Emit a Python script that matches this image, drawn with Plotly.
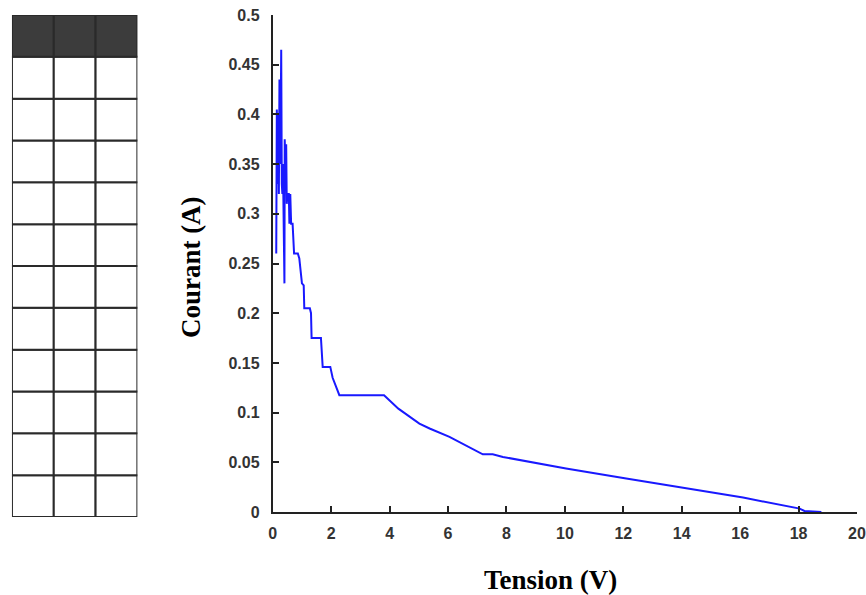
import plotly.graph_objects as go

# Data
tension = [0.12, 0.14, 0.16, 0.18, 0.21, 0.23, 0.26, 0.29, 0.31, 0.33, 0.35, 0.37, 0.38,
           0.40, 0.41, 0.44, 0.46, 0.48, 0.50, 0.55, 0.57, 0.60, 0.63, 0.68, 0.71, 0.73,
           0.86, 0.91, 1.00, 1.06, 1.08, 1.27, 1.31, 1.33, 1.65, 1.71, 1.97, 2.05, 2.28,
           3.81, 4.30, 5.02, 5.37, 6.05, 7.19, 7.53, 7.88, 10.04, 12.1, 14.04, 16.1,
           18.04, 18.2, 18.78]
courant = [0.26, 0.405, 0.33, 0.40, 0.32, 0.435, 0.35, 0.465, 0.33, 0.32, 0.35, 0.26, 0.33,
           0.23, 0.375, 0.34, 0.37, 0.31, 0.32, 0.32, 0.29, 0.32, 0.29, 0.29, 0.275, 0.26,
           0.26, 0.255, 0.23, 0.228, 0.205, 0.205, 0.20, 0.175, 0.175, 0.146, 0.146, 0.135,
           0.1175, 0.1175, 0.104, 0.089, 0.084, 0.0755, 0.058, 0.058, 0.0554, 0.0437,
           0.0336, 0.0245, 0.0145, 0.0034, 0.001, 0.0]

x_ticks = [0, 2, 4, 6, 8, 10, 12, 14, 16, 18, 20]
y_ticks = [0, 0.05, 0.1, 0.15, 0.2, 0.25, 0.3, 0.35, 0.4, 0.45, 0.5]
y_labels = ["0", "0.05", "0.1", "0.15", "0.2", "0.25", "0.3", "0.35", "0.4", "0.45", "0.5"]

table_cols = 3
table_rows = 12

x_title = "Tension (V)"
y_title = "Courant (A)"

W, H = 866, 595
ML, MR, MT, MB = 0, 9, 15, 78
PW = W - ML - MR
PH = H - MT - MB

fig = go.Figure()
fig.add_trace(go.Scatter(x=tension, y=courant, mode="lines",
                         line=dict(color="rgb(25,25,255)", width=2),
                         showlegend=False, hoverinfo="skip"))

tick_font = dict(family="Liberation Sans, Arial", size=16, color="#333333", weight="bold")
fig.update_layout(
    width=W, height=H,
    margin=dict(l=ML, r=MR, t=MT, b=MB, pad=0),
    paper_bgcolor="white", plot_bgcolor="white",
    xaxis=dict(domain=[(270 - ML) / PW, 1], range=[0, 20], tickvals=x_ticks,
               ticks="inside", ticklen=6, tickwidth=1.5, tickcolor="#222",
               showline=True, linecolor="#222", linewidth=2, showgrid=False,
               zeroline=False, tickfont=tick_font, ticklabelstandoff=6, anchor="y"),
    yaxis=dict(domain=[(517 - 512) / PH, 1], range=[0, 0.5], tickvals=y_ticks,
               ticktext=y_labels, ticks="inside", ticklen=6, tickwidth=1.5,
               tickcolor="#222", showline=True, linecolor="#222", linewidth=2,
               showgrid=False, zeroline=False, tickfont=tick_font,
               ticklabelstandoff=8, anchor="x"),
    xaxis2=dict(domain=[8 / PW, 134 / PW], range=[0, table_cols], visible=False,
                fixedrange=True, anchor="y2"),
    yaxis2=dict(domain=[0, 1], range=[0, table_rows], visible=False,
                fixedrange=True, anchor="x2"),
)

# Grid table on the left
shapes = []
for r in range(table_rows):
    for c in range(table_cols):
        top_row = (r == table_rows - 1)
        shapes.append(dict(type="rect", xref="x2", yref="y2",
                           x0=c, x1=c + 1, y0=r, y1=r + 1,
                           fillcolor="#3c3c3c" if top_row else "white",
                           line=dict(color="#2a2a2a", width=2), layer="above"))
fig.update_layout(shapes=shapes)

title_font = dict(family="Liberation Serif, Times New Roman", size=27, color="black")
fig.add_annotation(text="<b>%s</b>" % y_title, xref="paper", yref="paper",
                   x=(188 - ML) / PW, y=(H - MB - 267) / PH, textangle=-90,
                   showarrow=False, font=title_font, xanchor="center", yanchor="middle")
fig.add_annotation(text="<b>%s</b>" % x_title, xref="paper", yref="paper",
                   x=(549 - ML) / PW, y=(H - MB - 580) / PH,
                   showarrow=False, font=title_font, xanchor="center", yanchor="middle")

fig.write_html("out.html")
